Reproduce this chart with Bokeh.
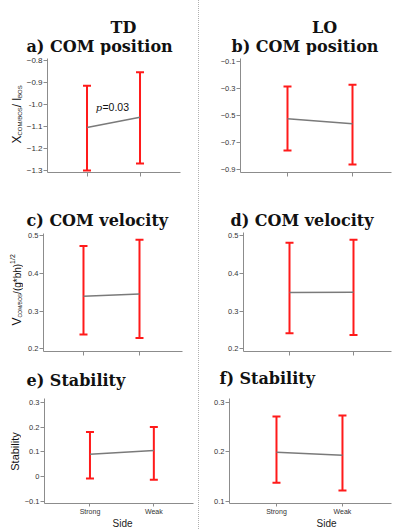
import math
from bokeh.plotting import figure
from bokeh.models import (Whisker, TeeHead, ColumnDataSource, Label, Div,
                          FixedTicker, Range1d)
from bokeh.layouts import row, column
from bokeh.embed import file_html
from bokeh.resources import INLINE

# ---------------- data ----------------
sides = ["Strong", "Weak"]
x_pos = [1, 2]

td_pos_mean = [-1.105, -1.058]
td_pos_lower = [-1.300, -1.268]
td_pos_upper = [-0.915, -0.853]

lo_pos_mean = [-0.523, -0.560]
lo_pos_lower = [-0.757, -0.861]
lo_pos_upper = [-0.285, -0.272]

td_vel_mean = [0.339, 0.345]
td_vel_lower = [0.238, 0.229]
td_vel_upper = [0.472, 0.489]

lo_vel_mean = [0.349, 0.350]
lo_vel_lower = [0.241, 0.237]
lo_vel_upper = [0.481, 0.489]

td_stab_mean = [0.091, 0.106]
td_stab_lower = [-0.007, -0.012]
td_stab_upper = [0.181, 0.201]

lo_stab_mean = [0.199, 0.193]
lo_stab_lower = [0.138, 0.122]
lo_stab_upper = [0.271, 0.273]

td_pos_ticks = [-1.3, -1.2, -1.1, -1.0, -0.9, -0.8]
lo_pos_ticks = [-0.9, -0.7, -0.5, -0.3, -0.1]
vel_ticks = [0.2, 0.3, 0.4, 0.5]
td_stab_ticks = [-0.1, 0, 0.1, 0.2, 0.3]
lo_stab_ticks = [0.1, 0.2, 0.3]

group_titles = ["TD", "LO"]
panel_titles = ["a) COM position", "b) COM position", "c) COM velocity",
                "d) COM velocity", "e) Stability", "f) Stability"]
x_title = "Side"
p_value_text = "=0.03"

AXIS_GREY = "#8c8c8c"
RED = "#ff1a1a"
TITLE_FONT = "DejaVu Serif"
SANS = "Liberation Sans"


def panel(W, H, bl, br, bt, bb, xr, yr, yticks, mean, lower, upper,
          show_x_labels=False, overrides=None, tick_size="7.5px"):
    p = figure(width=W, height=H, x_range=Range1d(*xr), y_range=Range1d(*yr),
               output_backend="svg", toolbar_location=None,
               min_border_left=bl, min_border_right=br,
               min_border_top=bt, min_border_bottom=bb)
    p.outline_line_color = None
    p.grid.visible = False
    for ax in (p.xaxis[0], p.yaxis[0]):
        ax.axis_line_color = AXIS_GREY
        ax.axis_line_width = 1
        ax.major_tick_line_color = AXIS_GREY
        ax.minor_tick_line_color = None
        ax.major_tick_out = 4
        ax.major_tick_in = 0
        ax.major_label_text_font = SANS
        ax.major_label_text_font_size = tick_size
        ax.major_label_text_color = "#333333"
        ax.major_label_standoff = 1
    p.xaxis.ticker = FixedTicker(ticks=x_pos)
    if show_x_labels:
        p.xaxis.major_label_overrides = {x_pos[0]: sides[0], x_pos[1]: sides[1]}
        p.xaxis.major_tick_out = 3
        p.xaxis.major_label_text_font_size = "7px"
    else:
        p.xaxis.major_label_overrides = {x_pos[0]: "", x_pos[1]: ""}
    p.yaxis.ticker = FixedTicker(ticks=yticks)
    if overrides:
        p.yaxis.major_label_overrides = overrides

    src = ColumnDataSource(dict(x=x_pos, lower=lower, upper=upper))
    p.add_layout(Whisker(base="x", lower="lower", upper="upper", source=src,
                         line_color=RED, line_width=2,
                         upper_head=TeeHead(size=8, line_color=RED, line_width=2),
                         lower_head=TeeHead(size=8, line_color=RED, line_width=2)))
    p.line(x_pos, mean, line_color="#7a7a7a", line_width=1.5)
    return p


def canvas(x0, x1, y0, y1):
    """blank text area; x/y in page pixels (y measured downward, stored negated)"""
    p = figure(width=x1 - x0, height=y1 - y0, x_range=Range1d(x0, x1),
               y_range=Range1d(-y1, -y0), x_axis_type=None, y_axis_type=None,
               output_backend="svg", toolbar_location=None,
               min_border=0, min_border_left=0, min_border_right=0,
               min_border_top=0, min_border_bottom=0)
    p.outline_line_color = None
    return p


def txt(p, text, x, y, size, font=SANS, style="normal", align="left",
        angle=0.0, color="#111111"):
    p.add_layout(Label(x=x, y=-y, text=text, text_font=font,
                       text_font_size=size, text_font_style=style,
                       text_align=align, text_baseline="middle", angle=angle,
                       text_color=color))


def title(p, text, x, y, align="left"):
    txt(p, text, x, y, "16px", font=TITLE_FONT, style="bold", align=align)


# ---------------- panels ----------------
pa = panel(175, 135, 19, 18, 3, 18, (0.2545, 2.764), (-1.309, -0.791),
           td_pos_ticks, td_pos_mean, td_pos_lower, td_pos_upper,
           overrides={-1.0: "-1.0"}, tick_size="8px")
pc = panel(175, 132, 20, 16, 3, 11, (0.286, 2.768), (0.193, 0.5053),
           vel_ticks, td_vel_mean, td_vel_lower, td_vel_upper)
pe = panel(177, 122, 18, 5, 3, 12, (0.288, 2.621), (-0.108, 0.3158),
           td_stab_ticks, td_stab_mean, td_stab_lower, td_stab_upper,
           show_x_labels=True, overrides={0: "0"})

pb = panel(191, 135, 39, 1, 3, 18, (0.277, 2.600), (-0.920, -0.078),
           lo_pos_ticks, lo_pos_mean, lo_pos_lower, lo_pos_upper)
pd = panel(191, 132, 42, 1, 2, 11, (0.281, 2.594), (0.193, 0.508),
           vel_ticks, lo_vel_mean, lo_vel_lower, lo_vel_upper)
pf = panel(191, 122, 28, 1, 3, 12, (0.288, 2.743), (0.0960, 0.3073),
           lo_stab_ticks, lo_stab_mean, lo_stab_lower, lo_stab_upper,
           show_x_labels=True)

# p-value annotation inside panel a (data units)
pa.add_layout(Label(x=1.164, y=-1.0136, text="p", text_font="DejaVu Serif",
                    text_font_style="italic", text_font_size="10px",
                    text_baseline="middle", text_color="#111111"))
pa.add_layout(Label(x=1.291, y=-1.0136, text=p_value_text, text_font=SANS,
                    text_font_size="10.5px", text_baseline="middle",
                    text_color="#111111"))

# ---------------- text areas (page-pixel coordinates) ----------------
ta = canvas(0, 198, 0, 55)
title(ta, group_titles[0], 123, 27, align="center")
title(ta, panel_titles[0], 26, 45.5)
tb = canvas(201, 392, 0, 55)
title(tb, group_titles[1], 324, 27, align="center")
title(tb, panel_titles[1], 231, 45.5)
tc = canvas(0, 198, 190, 230)
title(tc, panel_titles[2], 26, 219.5)
td = canvas(201, 392, 190, 230)
title(td, panel_titles[3], 230, 220)
te = canvas(0, 198, 362, 395)
title(te, panel_titles[4], 26, 379.5)
tf = canvas(201, 392, 362, 395)
title(tf, panel_titles[5], 219, 378)

R = math.pi / 2
ya = canvas(0, 23, 55, 190)
txt(ya, "X", 16, 143, "12px", angle=R)
txt(ya, "COM/BOS", 19.5, 135, "6px", angle=R)
txt(ya, "/ l", 16, 106.7, "12px", angle=R)
txt(ya, "BOS", 19.5, 97.4, "6px", angle=R)

yc = canvas(0, 23, 230, 362)
txt(yc, "V", 16, 325, "12px", angle=R)
txt(yc, "COM/BOS", 19.5, 317, "5px", angle=R)
txt(yc, "/(g*bh)", 16.5, 293.4, "10px", angle=R)
txt(yc, "1/2", 12, 263.4, "7px", angle=R)

ye = canvas(0, 21, 395, 517)
txt(ye, "Stability", 14.5, 451, "11px", align="center", angle=R)

sl = canvas(0, 198, 517, 529)
txt(sl, x_title, 122, 523, "10px", align="center", color="#222222")
sr = canvas(201, 392, 517, 529)
txt(sr, x_title, 326, 523, "10px", align="center", color="#222222")

sep = Div(width=3, height=529, margin=0, text="",
          styles={"border-left": "1px dotted #b0b0b0"})

# each plot wrapped on its own so that Bokeh does not align frames of siblings
left = column(ta, row(column(ya), column(pa)), tc, row(column(yc), column(pc)),
              te, row(column(ye), column(pe)), sl)
right = column(tb, column(pb), td, column(pd), tf, column(pf), sr)
layout = row(left, sep, right)

open("out.html", "w").write(file_html(layout, INLINE))
